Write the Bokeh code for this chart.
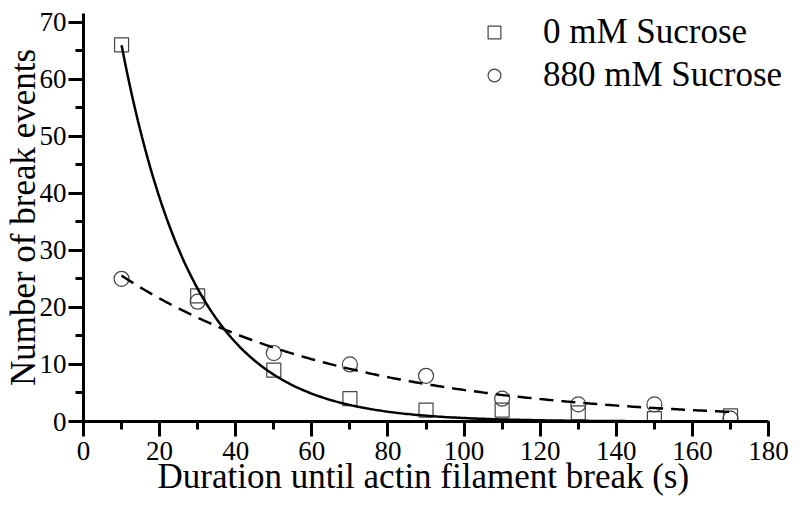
import numpy as np
from bokeh.plotting import figure
from bokeh.models import Range1d, Legend, LegendItem, FixedTicker, ColumnDataSource, Title
from bokeh.embed import file_html
from bokeh.resources import INLINE

# data
durations = [10, 30, 50, 70, 90, 110, 130, 150, 170]
events_0mM = [66, 22, 9, 4, 2, 2, 1.5, 0.5, 1]
events_880mM = [25, 21, 12, 10, 8, 4, 3, 3, 0.5]

# exponential fit parameters (y = A * exp(-x / tau))
fit_0mM = dict(A=111.0, tau=19.2)
fit_880mM = dict(A=30.3, tau=58.8)
fit_start, fit_end = 10, 170

x_ticks = list(range(0, 181, 20))
y_ticks = list(range(0, 71, 10))
x_label = "Duration until actin filament break (s)"
y_label = "Number of break events"

FONT = "Liberation Serif"

p = figure(frame_width=706, frame_height=408, output_backend="svg", toolbar_location=None,
           x_range=Range1d(0, 185.5), y_range=Range1d(0, 71.5),
           min_border_left=78, min_border_right=0, min_border_top=13, min_border_bottom=76)
p.outline_line_color = None
p.grid.visible = False
p.background_fill_color = "white"

xf = np.linspace(fit_start, fit_end, 300)
src_fit = ColumnDataSource(dict(
    x=xf,
    y0=fit_0mM["A"] * np.exp(-xf / fit_0mM["tau"]),
    y1=fit_880mM["A"] * np.exp(-xf / fit_880mM["tau"]),
))
src = ColumnDataSource(dict(x=durations, a=events_0mM, b=events_880mM))

r_sq = p.scatter("x", "a", source=src, marker="square", size=14, fill_color=None,
                 line_color="#444444", line_width=1.2)
r_ci = p.scatter("x", "b", source=src, marker="circle", size=15, fill_color=None,
                 line_color="#444444", line_width=1.2)
p.line("x", "y0", source=src_fit, line_color="black", line_width=2.5)
p.line("x", "y1", source=src_fit, line_color="black", line_width=2.5, line_dash="14 8")

for ax in (p.xaxis[0], p.yaxis[0]):
    ax.axis_line_width = 3
    ax.axis_line_color = "black"
    ax.major_tick_line_width = 3
    ax.minor_tick_line_width = 3
    ax.major_tick_out = 15
    ax.major_tick_in = 0
    ax.minor_tick_out = 8
    ax.minor_tick_in = 0
    ax.major_label_text_font = FONT
    ax.major_label_text_font_size = "27px"
    ax.major_label_text_color = "black"
    ax.axis_label_text_font = FONT
    ax.axis_label_text_font_size = "35px"
    ax.axis_label_text_font_style = "normal"
    ax.axis_label_text_color = "black"

p.xaxis.bounds = (0, 180)
p.xaxis.ticker = FixedTicker(ticks=x_ticks, minor_ticks=list(range(0, 181, 10)))
p.yaxis.ticker = FixedTicker(ticks=y_ticks, minor_ticks=list(range(0, 71, 5)))
p.yaxis.axis_label = y_label
p.xaxis.major_label_standoff = 5
p.yaxis.major_label_standoff = 2
p.yaxis.axis_label_standoff = -6

# x axis title, aligned to the bounded (0..180) part of the axis
xt = Title(text=x_label, align="left", offset=74, standoff=-11, vertical_align="top",
           text_font=FONT, text_font_size="35px", text_font_style="normal", text_color="black")
p.add_layout(xt, "below")

legend = Legend(items=[LegendItem(label="0 mM Sucrose", renderers=[r_sq]),
                       LegendItem(label="880 mM Sucrose", renderers=[r_ci])],
                location=(395, 326))
legend.border_line_color = None
legend.background_fill_alpha = 0
legend.padding = 0
legend.margin = 0
legend.spacing = 3
legend.glyph_width = 32
legend.glyph_height = 34
legend.label_height = 34
legend.label_standoff = 33
legend.label_text_font = FONT
legend.label_text_font_size = "35px"
legend.label_text_color = "black"
p.add_layout(legend)

open("out.html", "w").write(file_html(p, INLINE))
